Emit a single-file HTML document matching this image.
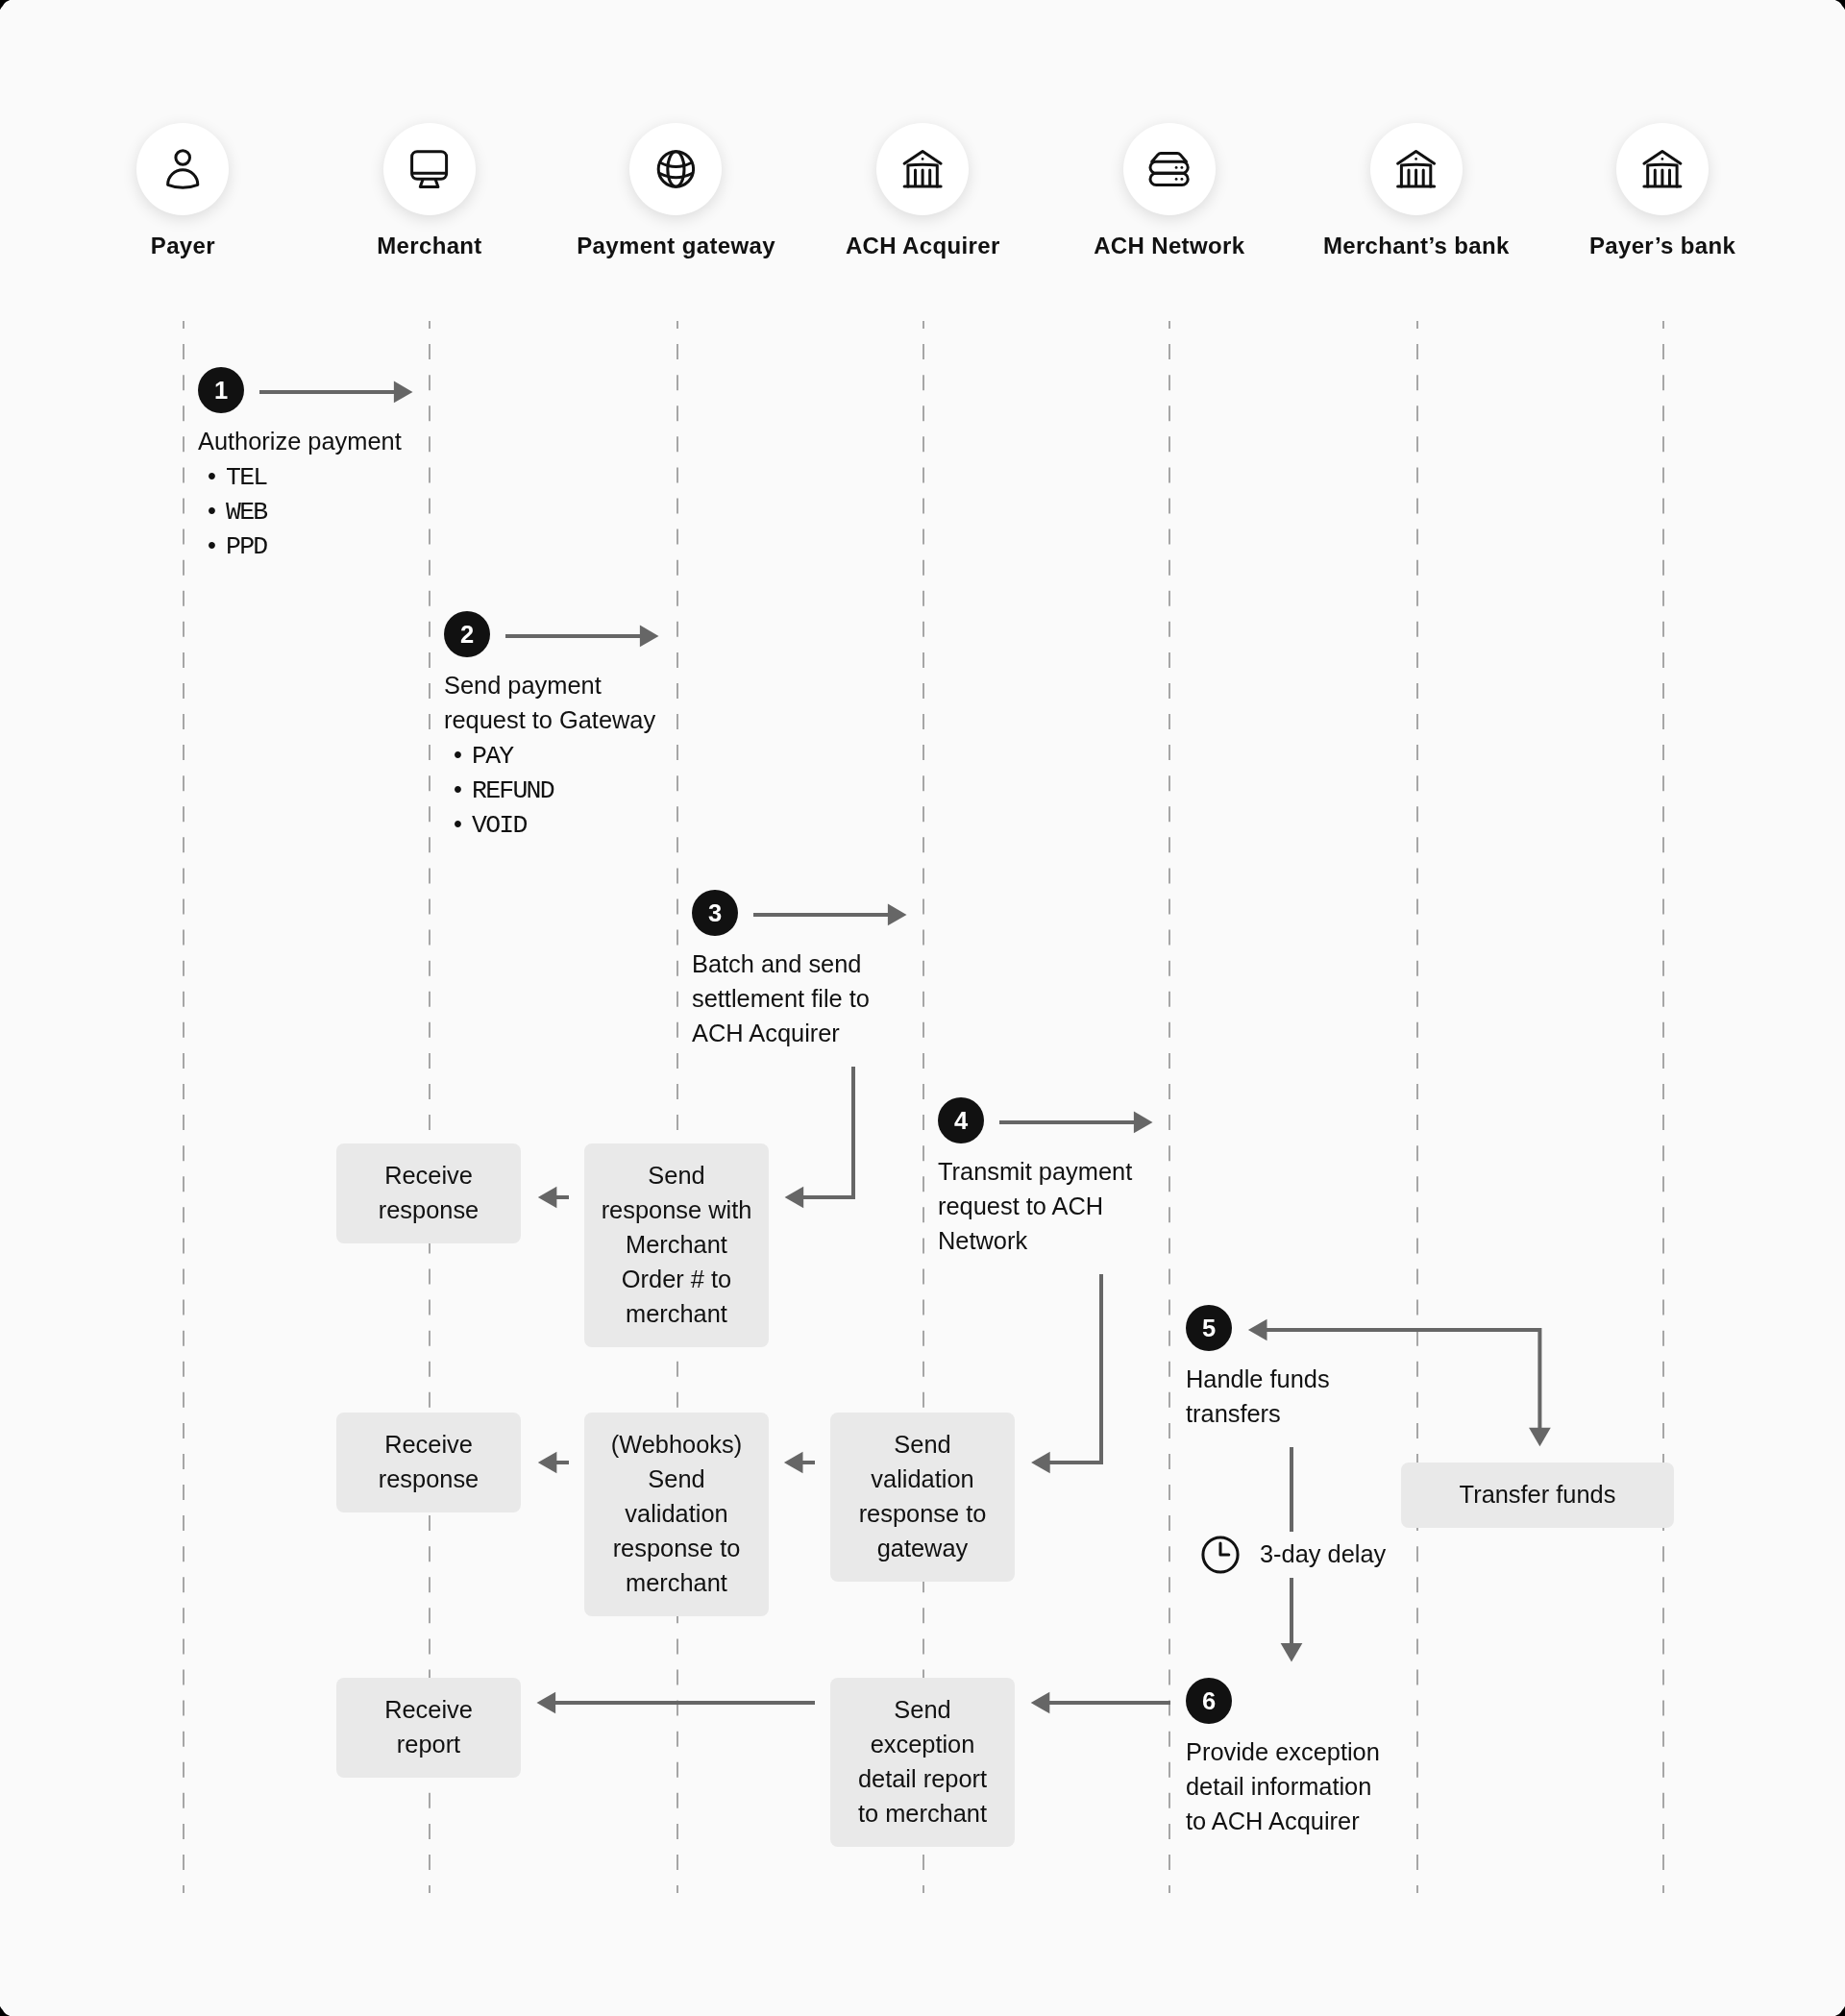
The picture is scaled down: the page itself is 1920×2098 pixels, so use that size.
<!DOCTYPE html>
<html><head><meta charset="utf-8"><style>
html,body{margin:0;padding:0;background:#000;}
#page{position:relative;width:1920px;height:2098px;background:#fafafa;font-family:"Liberation Sans",sans-serif;color:#111111;}
svg{position:absolute;left:0;top:0;}
#txt{position:absolute;left:0;top:0;width:1920px;height:2098px;will-change:transform;}
.hc{position:absolute;width:96px;height:96px;border-radius:50%;background:#fff;box-shadow:0 4px 16px rgba(0,0,0,0.12);}
.hl{position:absolute;width:300px;text-align:center;font-weight:bold;font-size:24px;line-height:30px;white-space:nowrap;letter-spacing:0.35px;text-indent:0.35px;}
.num{position:absolute;width:48px;text-align:center;color:#fff;font-weight:bold;font-size:25.5px;line-height:30px;}
.st{position:absolute;font-size:25.4px;line-height:36px;white-space:nowrap;}
.ln{height:36px;white-space:nowrap;}
.bul{display:inline-block;width:29px;padding-left:10px;box-sizing:border-box;}
.mono{font-family:"Liberation Mono",monospace;font-size:26.5px;letter-spacing:-1.75px;line-height:36px;vertical-align:top;position:relative;top:1.9px;}
.box{position:absolute;background:#e9e9e9;border-radius:8px;display:flex;align-items:center;justify-content:center;text-align:center;font-size:25.4px;line-height:36px;white-space:nowrap;}
</style></head><body><div id="page">
<div class="hc" style="left:142.20px;top:128px"></div>
<div class="hc" style="left:398.80px;top:128px"></div>
<div class="hc" style="left:655.40px;top:128px"></div>
<div class="hc" style="left:912.10px;top:128px"></div>
<div class="hc" style="left:1168.60px;top:128px"></div>
<div class="hc" style="left:1425.60px;top:128px"></div>
<div class="hc" style="left:1681.90px;top:128px"></div>
<svg width="1920" height="2098" viewBox="0 0 1920 2098">
<polygon points="0.00,0.00 10.30,0.00 6.20,2.00 4.20,4.00 3.00,6.00 1.30,8.00 0.00,10.30" fill="#000"/>
<polygon points="1920.00,0.00 1909.70,0.00 1913.80,2.00 1915.80,4.00 1917.00,6.00 1918.70,8.00 1920.00,10.30" fill="#000"/>
<polygon points="0.00,2098.00 10.30,2098.00 6.20,2096.00 4.20,2094.00 3.00,2092.00 1.30,2090.00 0.00,2087.70" fill="#000"/>
<polygon points="1920.00,2098.00 1909.70,2098.00 1913.80,2096.00 1915.80,2094.00 1917.00,2092.00 1918.70,2090.00 1920.00,2087.70" fill="#000"/>
<line x1="191.00" y1="334" x2="191.00" y2="1970" stroke="#a6a6a6" stroke-width="2" stroke-dasharray="16 16.08" stroke-dashoffset="8"/>
<line x1="447.00" y1="334" x2="447.00" y2="1970" stroke="#a6a6a6" stroke-width="2" stroke-dasharray="16 16.08" stroke-dashoffset="8"/>
<line x1="705.00" y1="334" x2="705.00" y2="1970" stroke="#a6a6a6" stroke-width="2" stroke-dasharray="16 16.08" stroke-dashoffset="8"/>
<line x1="961.00" y1="334" x2="961.00" y2="1970" stroke="#a6a6a6" stroke-width="2" stroke-dasharray="16 16.08" stroke-dashoffset="8"/>
<line x1="1217.00" y1="334" x2="1217.00" y2="1970" stroke="#a6a6a6" stroke-width="2" stroke-dasharray="16 16.08" stroke-dashoffset="8"/>
<line x1="1475.00" y1="334" x2="1475.00" y2="1970" stroke="#a6a6a6" stroke-width="2" stroke-dasharray="16 16.08" stroke-dashoffset="8"/>
<line x1="1731.00" y1="334" x2="1731.00" y2="1970" stroke="#a6a6a6" stroke-width="2" stroke-dasharray="16 16.08" stroke-dashoffset="8"/>
<g transform="translate(190.20,176.00)" fill="none" stroke="#111111" stroke-width="3" stroke-linecap="round" stroke-linejoin="round"><circle cx="0" cy="-12" r="7.3"/><path d="M-15.6 16.3 A15.6 15.6 0 0 1 15.6 16.3 Q0 22.3 -15.6 16.3 Z"/></g>
<g transform="translate(446.60,176.00)" fill="none" stroke="#111111" stroke-width="3" stroke-linecap="round" stroke-linejoin="round"><rect x="-18" y="-18.3" width="36" height="28.5" rx="5.5"/><path d="M-16.5 4.2 H16.5"/><path d="M-6.5 10.5 L-9.3 18.4 H9.3 L6.5 10.5"/></g>
<g transform="translate(703.40,176.00)" fill="none" stroke="#111111" stroke-width="3" stroke-linecap="round" stroke-linejoin="round"><circle cx="0" cy="0" r="18.2"/><ellipse cx="0" cy="0" rx="8.6" ry="18.2"/><path d="M-15.8 -6.5 Q0 1.5 15.8 -6.5"/><path d="M-16.6 4.5 Q0 13 16.6 4.5"/></g>
<g transform="translate(960.10,176.00)" fill="none" stroke="#111111" stroke-width="3" stroke-linecap="round" stroke-linejoin="round"><path d="M-19 -5.8 L0 -18.5 L19 -5.8"/><circle cx="0" cy="-10.6" r="1.35" fill="#111" stroke="none"/><path d="M-15.2 17.9 V-3.9 Q0 -5.5 15.2 -3.9 V17.9"/><path d="M-7.6 1 V17.3 M0 1 V17.3 M7.6 1 V17.3"/><path d="M-19 17.9 H19"/></g>
<g transform="translate(1473.60,176.00)" fill="none" stroke="#111111" stroke-width="3" stroke-linecap="round" stroke-linejoin="round"><path d="M-19 -5.8 L0 -18.5 L19 -5.8"/><circle cx="0" cy="-10.6" r="1.35" fill="#111" stroke="none"/><path d="M-15.2 17.9 V-3.9 Q0 -5.5 15.2 -3.9 V17.9"/><path d="M-7.6 1 V17.3 M0 1 V17.3 M7.6 1 V17.3"/><path d="M-19 17.9 H19"/></g>
<g transform="translate(1729.90,176.00)" fill="none" stroke="#111111" stroke-width="3" stroke-linecap="round" stroke-linejoin="round"><path d="M-19 -5.8 L0 -18.5 L19 -5.8"/><circle cx="0" cy="-10.6" r="1.35" fill="#111" stroke="none"/><path d="M-15.2 17.9 V-3.9 Q0 -5.5 15.2 -3.9 V17.9"/><path d="M-7.6 1 V17.3 M0 1 V17.3 M7.6 1 V17.3"/><path d="M-19 17.9 H19"/></g>
<g transform="translate(1216.60,176.00)" fill="none" stroke="#111111" stroke-width="3" stroke-linecap="round" stroke-linejoin="round"><path d="M-17.9 -7.7 L-11.6 -15.1 Q-10.4 -16.4 -8.6 -16.4 H8.6 Q10.4 -16.4 11.6 -15.1 L17.9 -7.7"/><rect x="-19.6" y="-7.7" width="39.2" height="11.9" rx="5.95"/><rect x="-19.6" y="4.2" width="39.2" height="12.4" rx="6.2"/><g fill="#111" stroke="none"><circle cx="7.5" cy="-1.6" r="1.45"/><circle cx="13.3" cy="-1.6" r="1.45"/><circle cx="7.5" cy="10.4" r="1.45"/><circle cx="13.3" cy="10.4" r="1.45"/></g></g>
<circle cx="230.00" cy="406" r="24" fill="#111111"/>
<line x1="270.00" y1="407.9" x2="410.50" y2="407.9" stroke="#666666" stroke-width="4"/>
<path d="M429.50 407.9 L409.90 396.54999999999995 L409.90 419.25 Z" fill="#666666"/>
<circle cx="486.00" cy="660" r="24" fill="#111111"/>
<line x1="526.00" y1="661.9" x2="666.50" y2="661.9" stroke="#666666" stroke-width="4"/>
<path d="M685.50 661.9 L665.90 650.55 L665.90 673.25 Z" fill="#666666"/>
<circle cx="744.00" cy="950" r="24" fill="#111111"/>
<line x1="784.00" y1="951.9" x2="924.50" y2="951.9" stroke="#666666" stroke-width="4"/>
<path d="M943.50 951.9 L923.90 940.55 L923.90 963.25 Z" fill="#666666"/>
<circle cx="1000.00" cy="1166" r="24" fill="#111111"/>
<line x1="1040.00" y1="1167.9" x2="1180.50" y2="1167.9" stroke="#666666" stroke-width="4"/>
<path d="M1199.50 1167.9 L1179.90 1156.5500000000002 L1179.90 1179.25 Z" fill="#666666"/>
<circle cx="1258.00" cy="1382" r="24" fill="#111111"/>
<circle cx="1258.00" cy="1770" r="24" fill="#111111"/>
<line x1="592.00" y1="1246" x2="578.80" y2="1246" stroke="#666666" stroke-width="4"/>
<path d="M559.80 1246 L579.40 1234.65 L579.40 1257.35 Z" fill="#666666"/>
<path d="M888 1110 V1246 H835" fill="none" stroke="#666666" stroke-width="4" stroke-linejoin="miter"/>
<path d="M816.6 1246 L836.2 1234.65 L836.2 1257.35 Z" fill="#666666"/>
<line x1="592.00" y1="1522" x2="578.80" y2="1522" stroke="#666666" stroke-width="4"/>
<path d="M559.80 1522 L579.40 1510.65 L579.40 1533.35 Z" fill="#666666"/>
<line x1="848.00" y1="1522" x2="834.90" y2="1522" stroke="#666666" stroke-width="4"/>
<path d="M815.90 1522 L835.50 1510.65 L835.50 1533.35 Z" fill="#666666"/>
<path d="M1146 1326 V1522 H1092" fill="none" stroke="#666666" stroke-width="4" stroke-linejoin="miter"/>
<path d="M1073.1 1522 L1092.7 1510.65 L1092.7 1533.35 Z" fill="#666666"/>
<path d="M1318 1384 H1602.4 V1487" fill="none" stroke="#666666" stroke-width="4" stroke-linejoin="miter"/>
<path d="M1298.9 1384 L1318.5 1372.65 L1318.5 1395.35 Z" fill="#666666"/>
<path d="M1602.4 1505.3 L1591.05 1485.7 L1613.75 1485.7 Z" fill="#666666"/>
<line x1="1344" y1="1506" x2="1344" y2="1594" stroke="#666666" stroke-width="4"/>
<line x1="1344" y1="1642" x2="1344" y2="1710.5" stroke="#666666" stroke-width="4"/>
<path d="M1344 1729.5 L1332.65 1709.9 L1355.35 1709.9 Z" fill="#666666"/>
<g transform="translate(1270.00,1618.00)" fill="none" stroke="#111111" stroke-width="3" stroke-linecap="round" stroke-linejoin="round"><circle cx="0" cy="0" r="18.1"/><path d="M0 -11.9 V0 H8.8"/></g>
<line x1="1218.00" y1="1772" x2="1091.70" y2="1772" stroke="#666666" stroke-width="4"/>
<path d="M1072.70 1772 L1092.30 1760.65 L1092.30 1783.35 Z" fill="#666666"/>
<line x1="848.00" y1="1772" x2="577.50" y2="1772" stroke="#666666" stroke-width="4"/>
<path d="M558.50 1772 L578.10 1760.65 L578.10 1783.35 Z" fill="#666666"/>
</svg>
<div id="txt">
<div class="hl" style="left:40.20px;top:240.68px">Payer</div>
<div class="hl" style="left:296.80px;top:240.68px">Merchant</div>
<div class="hl" style="left:553.40px;top:240.68px">Payment gateway</div>
<div class="hl" style="left:810.10px;top:240.68px">ACH Acquirer</div>
<div class="hl" style="left:1066.60px;top:240.68px">ACH Network</div>
<div class="hl" style="left:1323.60px;top:240.68px">Merchant’s bank</div>
<div class="hl" style="left:1579.90px;top:240.68px">Payer’s bank</div>
<div class="num" style="left:206.00px;top:391.36px">1</div>
<div class="st" style="left:206.00px;top:440.70px"><div class="ln">Authorize payment</div><div class="ln"><span class="bul">•</span><span class="mono">TEL</span></div><div class="ln"><span class="bul">•</span><span class="mono">WEB</span></div><div class="ln"><span class="bul">•</span><span class="mono">PPD</span></div></div>
<div class="num" style="left:462.00px;top:645.36px">2</div>
<div class="st" style="left:462.00px;top:694.70px"><div class="ln">Send payment</div><div class="ln">request to Gateway</div><div class="ln"><span class="bul">•</span><span class="mono">PAY</span></div><div class="ln"><span class="bul">•</span><span class="mono">REFUND</span></div><div class="ln"><span class="bul">•</span><span class="mono">VOID</span></div></div>
<div class="num" style="left:720.00px;top:935.36px">3</div>
<div class="st" style="left:720.00px;top:984.70px"><div class="ln">Batch and send</div><div class="ln">settlement file to</div><div class="ln">ACH Acquirer</div></div>
<div class="num" style="left:976.00px;top:1151.36px">4</div>
<div class="st" style="left:976.00px;top:1200.70px"><div class="ln">Transmit payment</div><div class="ln">request to ACH</div><div class="ln">Network</div></div>
<div class="num" style="left:1234.00px;top:1367.36px">5</div>
<div class="st" style="left:1234.00px;top:1416.70px"><div class="ln">Handle funds</div><div class="ln">transfers</div></div>
<div class="num" style="left:1234.00px;top:1755.36px">6</div>
<div class="st" style="left:1234.00px;top:1804.70px"><div class="ln">Provide exception</div><div class="ln">detail information</div><div class="ln">to ACH Acquirer</div></div>
<div class="box" style="left:350px;top:1190px;width:192px;height:104px"><div style="position:relative;top:-0.8px">Receive<br>response</div></div>
<div class="box" style="left:608px;top:1190px;width:192px;height:212px"><div style="position:relative;top:-0.8px">Send<br>response with<br>Merchant<br>Order # to<br>merchant</div></div>
<div class="box" style="left:350px;top:1470px;width:192px;height:104px"><div style="position:relative;top:-0.8px">Receive<br>response</div></div>
<div class="box" style="left:608px;top:1470px;width:192px;height:212px"><div style="position:relative;top:-0.8px">(Webhooks)<br>Send<br>validation<br>response to<br>merchant</div></div>
<div class="box" style="left:864px;top:1470px;width:192px;height:176px"><div style="position:relative;top:-0.8px">Send<br>validation<br>response to<br>gateway</div></div>
<div class="box" style="left:1458px;top:1522px;width:284px;height:68px"><div style="position:relative;top:-0.8px">Transfer funds</div></div>
<div class="box" style="left:350px;top:1746px;width:192px;height:104px"><div style="position:relative;top:-0.8px">Receive<br>report</div></div>
<div class="box" style="left:864px;top:1746px;width:192px;height:176px"><div style="position:relative;top:-0.8px">Send<br>exception<br>detail report<br>to merchant</div></div>
<div class="st" style="left:1311px;top:1599.20px">3-day delay</div>
</div>
</div></body></html>
